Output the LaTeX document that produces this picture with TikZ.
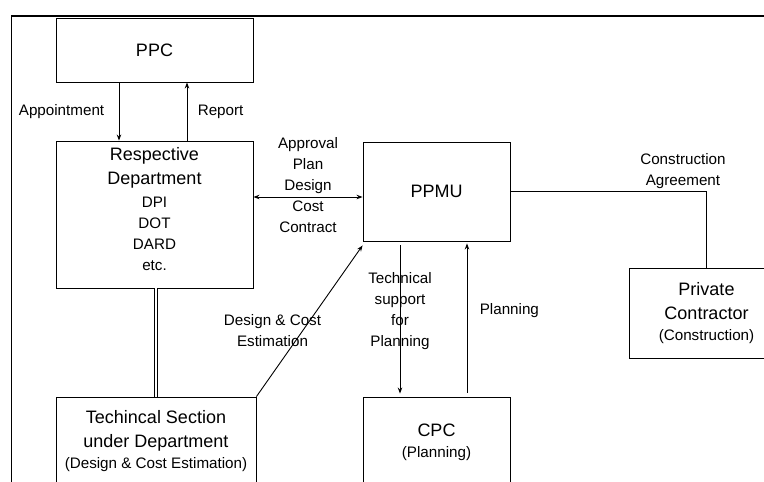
\documentclass[tikz,border=0pt]{standalone}
\usepackage{fontspec}
\setmainfont{Liberation Sans}
\usepackage{tikz}
\usetikzlibrary{arrows.meta, positioning, calc}

\newcommand{\subtxt}{\fontsize{15.2}{21}\selectfont}

\begin{document}
\begin{tikzpicture}[x=10pt, y=-10pt, line width=0.9pt,
    box/.style={draw, inner sep=0pt, align=center, font=\fontsize{18}{24}\selectfont},
    lbl/.style={align=center, font=\subtxt},
    >={Stealth[length=6pt, width=4.5pt]}]
\useasboundingbox (0,0) rectangle (76.4,48.2);
\clip (0,0) rectangle (76.4,48.2);

% outer frame
\draw[line width=1.2pt] (1.15,1.6) rectangle (80,52);

% boxes
\node[box, minimum width=197pt, minimum height=64pt] (ppc) at (15.45,5.0) {PPC};
\node[box, minimum width=197pt, minimum height=147pt] (dept) at (15.45,21.45) {};
\node[align=center, font=\fontsize{18}{24}\selectfont, yshift=5pt] (depttxt) at (dept.center)
    {Respective\\Department\\[-1pt]\subtxt DPI\\[-3pt]\subtxt DOT\\[-3pt]\subtxt DARD\\[-3pt]\subtxt etc.};
\node[box, minimum width=200pt, minimum height=88pt] (tech) at (15.6,44.1)
    {Techincal Section\\under Department\\[-3pt]\subtxt (Design \& Cost Estimation)};
\node[box, minimum width=147pt, minimum height=99pt] (ppmu) at (43.65,19.15) {PPMU};
\node[box, minimum width=147pt, minimum height=90pt] (cpc) at (43.65,44.2)
    {CPC\\[-3pt]\subtxt (Planning)};
\node[box, minimum width=155pt, minimum height=90pt] (contr) at (70.65,31.3)
    {Private\\Contractor\\[-3pt]\subtxt (Construction)};

% PPC and department
\draw[->] ([xshift=-35.5pt]ppc.south) -- ([xshift=-35.5pt]dept.north)
    node[midway, left=11pt, lbl] (appoint) {Appointment};
\draw[->] ([xshift=32.5pt]dept.north) -- ([xshift=32.5pt]ppc.south)
    node[midway, right=7pt, lbl] (report) {Report};

% department and PPMU
\coordinate (dp) at ([yshift=17.5pt]dept.east);
\draw[<->] (dp) -- (dp -| ppmu.west)
    node[midway, yshift=12pt, lbl] (approval) {Approval\\Plan\\Design\\Cost\\Contract};

% department and technical section
\draw[double, double distance=2.5pt, line width=0.8pt] (tech.north) -- (tech.north |- dept.south);

% technical section to PPMU
\draw[->] (tech.north east) -- ([yshift=-4pt]ppmu.south west)
    node[pos=0.434, xshift=-30pt, lbl] (estim) {Design \& Cost\\Estimation};

% PPMU and CPC
\draw[->, shorten <=4pt, shorten >=3pt] ([xshift=-36.5pt]ppmu.south) -- ([xshift=-36.5pt]cpc.north)
    node[midway, yshift=8pt, lbl] (support) {Technical\\support\\for\\Planning};
\draw[->, shorten <=4pt, shorten >=2pt] ([xshift=30.5pt]cpc.north) -- ([xshift=30.5pt]ppmu.south)
    node[midway, right=9pt, yshift=8pt, lbl] (plan) {Planning};

% PPMU and private contractor
\draw (ppmu.east) -| (contr.north)
    node[pos=0.44, above=-1pt, lbl] (agree) {Construction\\Agreement};
\end{tikzpicture}
\end{document}
